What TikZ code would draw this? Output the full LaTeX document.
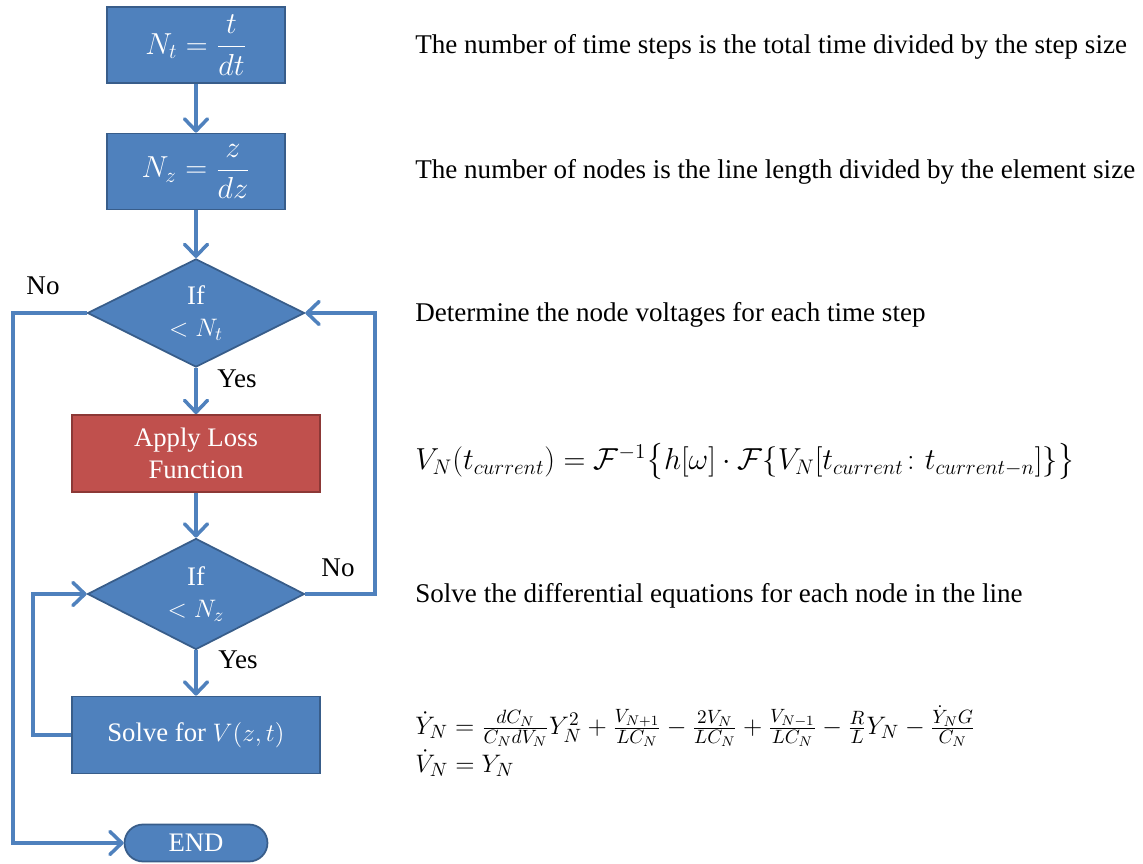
\documentclass[tikz,border=0pt]{standalone}
\usepackage{amsmath}
\usepackage{fontspec}
\setmainfont{Liberation Serif}
\usetikzlibrary{shapes.geometric,arrows.meta}
\definecolor{obblue}{HTML}{4F81BD}
\definecolor{obblueD}{HTML}{385D8A}
\definecolor{obred}{HTML}{C0504D}
\definecolor{obredD}{HTML}{8C3836}
\begin{document}
\begin{tikzpicture}[x=0.02cm,y=-0.02cm,
  box/.style={draw=obblueD, fill=obblue, line width=1pt, text=white, inner sep=0pt,
    minimum width=3.56cm, minimum height=1.52cm, align=center, font=\fontsize{15.2}{18}\selectfont},
  mathbox/.style={box, font=\fontsize{17}{20}\selectfont},
  widebox/.style={box, minimum width=4.96cm, minimum height=1.54cm},
  lossbox/.style={widebox, draw=obredD, fill=obred},
  decision/.style={diamond, draw=obblueD, fill=obblue, line width=1pt, text=white, inner sep=0pt,
    minimum width=4.34cm, minimum height=2.02cm, align=center, font=\fontsize{15.2}{18}\selectfont},
  endbox/.style={box, minimum width=2.86cm, minimum height=0.74cm, rounded corners=0.37cm},
  conn/.style={draw=obblue, line width=2pt, -{Straight Barb[length=2.4mm,width=4.6mm,round]}},
  lbl/.style={font=\fontsize{15.4}{18}\selectfont, inner sep=0pt},
  desc/.style={anchor=west, inner sep=0pt, font=\fontsize{15.4}{18}\selectfont}
]
\useasboundingbox (0,0) rectangle (1143,864);

\node[mathbox] (nt) at (196,45) {$\displaystyle N_t=\frac{t}{dt}$};
\node[mathbox] (nz) at (196,171.5) {$\displaystyle N_z=\frac{z}{dz}$};
\node[decision] (d1) at (196,313) {If\\$<N_t$};
\node[lossbox] (loss) at (196,453.5) {Apply Loss\\Function};
\node[decision] (d2) at (196,594) {If\\$<N_z$};
\node[widebox] (solve) at (196,735) {Solve for $V(z,t)$};
\node[endbox] (end) at (196,843) {END};

\coordinate (nl) at (13,313);
\coordinate (nr) at (375,594);
\coordinate (sl) at (33,735);

\draw[conn] (nt) -- (nz);
\draw[conn] (nz) -- (d1);
\draw[conn] (d1) -- (loss);
\draw[conn] (loss) -- (d2);
\draw[conn] (d2) -- (solve);
\draw[conn] (d1.west) -- (nl) |- (end.west);
\draw[conn] (d2.east) -- (nr) |- (d1.east);
\draw[conn] (solve.west) -- (sl) |- (d2.west);

\node[lbl] (no1) at (43,286) {No};
\node[lbl] (yes1) at (237,379) {Yes};
\node[lbl] (no2) at (338,568) {No};
\node[lbl] (yes2) at (238,660) {Yes};

\node[desc] (t1) at (415,47) {The number of time steps is the total time divided by the step size};
\node[desc] (t2) at (415,172) {The number of nodes is the line length divided by the element size};
\node[desc] (t3) at (415,315) {Determine the node voltages for each time step};
\node[desc, font=\fontsize{16.8}{20}\selectfont] (e1) at (415,462) {$V_N(t_{current})=\mathcal{F}^{-1}\bigl\{h[\omega]\cdot\mathcal{F}\{V_N[t_{current}\colon t_{current-n}]\}\bigr\}$};
\node[desc] (t4) at (415,596) {Solve the differential equations for each node in the line};
\node[desc, font=\fontsize{15.3}{18}\selectfont] (e2) at (415,744) {$\begin{array}{@{}l@{}}\dot{Y}_N=\frac{dC_N}{C_N dV_N}Y_N^2+\frac{V_{N+1}}{LC_N}-\frac{2V_N}{LC_N}+\frac{V_{N-1}}{LC_N}-\frac{R}{L}Y_N-\frac{\dot{Y}_N G}{C_N}\\[3pt] \dot{V}_N=Y_N\end{array}$};
\end{tikzpicture}
\end{document}
